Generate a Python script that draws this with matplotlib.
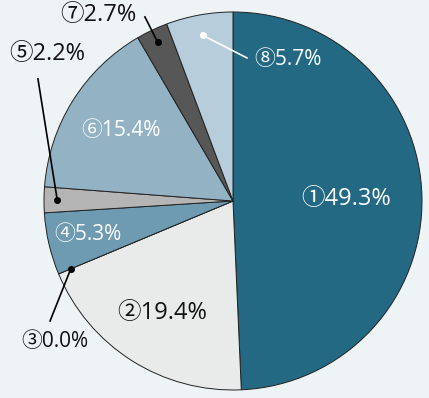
import numpy as np
import matplotlib.pyplot as plt

labels = ["①", "②", "③", "④", "⑤", "⑥", "⑦", "⑧"]
values = [49.3, 19.4, 0.0, 5.3, 2.2, 15.4, 2.7, 5.7]
colors = ["#246984", "#e9eaea", "#8a8a8a", "#6e9bb2", "#b5b5b5", "#93b3c5", "#575757", "#b8cddb"]
text_colors = ["white", "#111111", "#111111", "white", "#111111", "white", "#111111", "white"]
font_sizes = [17, 17, 15, 15, 17, 15, 17, 15]

plt.rcParams['font.family'] = ['Open Sans', 'Noto Sans CJK JP']

fig = plt.figure(figsize=(4.29, 3.98), dpi=100)
fig.patch.set_facecolor("#eef3f6")
ax = fig.add_axes([0, 0, 1, 1])
ax.set_facecolor("none")

wedges, _ = ax.pie(values, colors=colors, startangle=90, counterclock=False,
                   radius=1.0, wedgeprops=dict(edgecolor="#222222", linewidth=0.7))
ax.set_xlim(-233 / 189, (429 - 233) / 189)
ax.set_ylim(-(398 - 201) / 189, 201 / 189)
ax.set_aspect("equal")
ax.axis("off")

# labels inside the pie: index -> radius along the wedge middle
inside = {0: 0.60, 1: 0.70, 3: 0.79, 5: 0.70}
# labels outside: index -> (text x, text y, line end x, line end y, dot radius)
outside = {
    2: (-0.942, -0.746, -0.968, -0.635, 0.93),
    4: (-0.984, 0.778, -1.032, 0.646, 0.93),
    6: (-0.714, 0.984, -0.466, 0.974, 0.93),
    7: (0.291, 0.751, 0.074, 0.757, 0.89),
}

cum = np.cumsum([0] + values)
for i, (lab, v) in enumerate(zip(labels, values)):
    mid = np.deg2rad(90 - (cum[i] + v / 2) / 100 * 360)
    txt = f"{lab}{v:.1f}%"
    if i in inside:
        r = inside[i]
        ax.text(r * np.cos(mid), r * np.sin(mid), txt, ha="center", va="center",
                fontsize=font_sizes[i], color=text_colors[i])
    else:
        tx, ty, lx, ly, r = outside[i]
        dx, dy = r * np.cos(mid), r * np.sin(mid)
        lc = "white" if i == 7 else "black"
        ax.plot([dx, lx], [dy, ly], color=lc, lw=1.2)
        ax.plot(dx, dy, "o", color=lc, ms=4)
        ax.text(tx, ty, txt, ha="center", va="center", fontsize=font_sizes[i],
                color=text_colors[i])

fig.savefig("out.png", dpi=100, facecolor=fig.get_facecolor())
